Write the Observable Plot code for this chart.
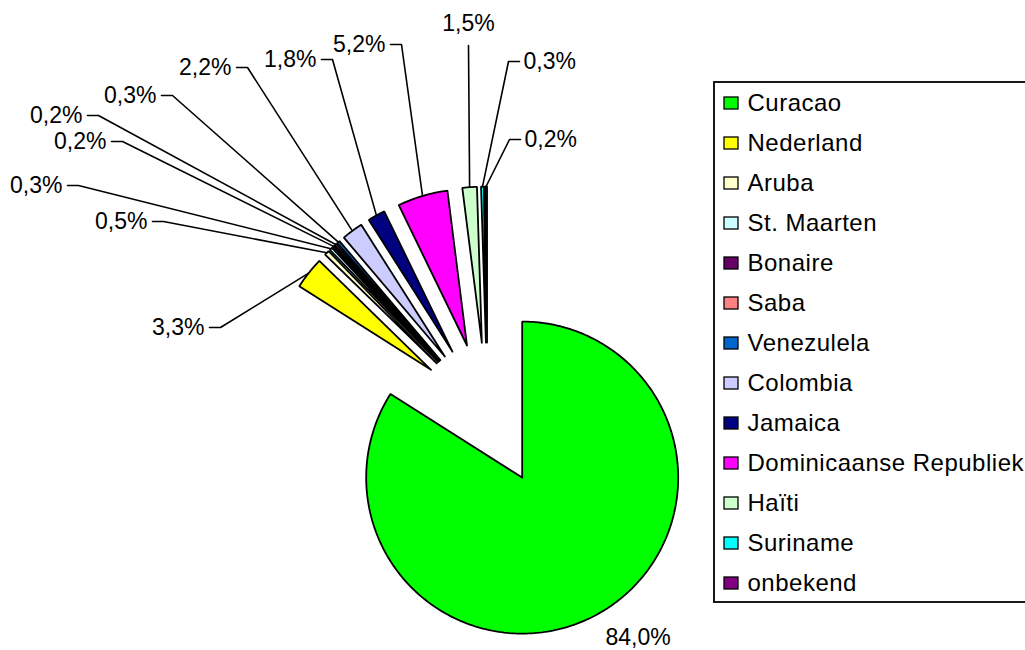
<!DOCTYPE html>
<html><head><meta charset="utf-8">
<script src="https://cdn.jsdelivr.net/npm/d3@7"></script>
<script src="https://cdn.jsdelivr.net/npm/@observablehq/plot@0.6"></script>
<style>body{margin:0;background:#fff;overflow:hidden}</style>
</head><body><div id="chart"></div>
<script>
// ---- data ----
const countries = ["Curacao","Nederland","Aruba","St. Maarten","Bonaire","Saba","Venezulela","Colombia","Jamaica","Dominicaanse Republiek","Haïti","Suriname","onbekend"];
const shares = [84.0,3.3,0.5,0.3,0.2,0.2,0.3,2.2,1.8,5.2,1.5,0.3,0.2];
const shareLabels = ["84,0%","3,3%","0,5%","0,3%","0,2%","0,2%","0,3%","2,2%","1,8%","5,2%","1,5%","0,3%","0,2%"];
const colors = ["#00ff00","#ffff00","#ffffcc","#ccffff","#660066","#ff8080","#0066cc","#ccccff","#000080","#ff00ff","#ccffcc","#00ffff","#800080"];

// ---- layout (manual Excel placement) ----
const W = 1025, H = 650;
const cx = 487, cy = 414, R = 156, explode = 72;
const labelElbows = [
  [605,637,"N"],[220,327,"L"],[163,221,"L"],[78,185,"L"],[122,141,"L"],[98,115,"L"],
  [172,95,"L"],[247,67,"L"],[332,59,"L"],[401,44,"L"],[468,45,"T"],[508,61,"R"],[509,139,"R"]
];
const legend = {x1:714, x2:1040, y1:82, y2:602, top:103, step:40, mx:724, mw:14, mh:12, tx:747};

// ---- geometry from data ----
let cum = 0;
const slicePts = [], ends = [];
countries.forEach((c, i) => {
  const a0 = cum / 100 * 2 * Math.PI; cum += shares[i];
  const a1 = cum / 100 * 2 * Math.PI, am = (a0 + a1) / 2;
  const vx = cx + explode * Math.sin(am), vy = cy - explode * Math.cos(am);
  slicePts.push({name: c, x: vx, y: vy});
  const n = Math.max(2, Math.ceil((a1 - a0) / (Math.PI / 180)));
  for (let k = 0; k <= n; k++) {
    const a = a0 + (a1 - a0) * k / n;
    slicePts.push({name: c, x: vx + R * Math.sin(a), y: vy - R * Math.cos(a)});
  }
  slicePts.push({name: c, x: vx, y: vy});
  ends.push({x: vx + R * Math.sin(am), y: vy - R * Math.cos(am)});
});

const leaderPts = [], labelTexts = [];
labelElbows.forEach(([ex, ey, side], i) => {
  if (side === "N") { labelTexts.push({x: ex, y: ey, t: shareLabels[i], anchor: "start"}); return; }
  const e = ends[i];
  if (side === "L") {
    leaderPts.push({i, x: ex - 11, y: ey}, {i, x: ex, y: ey}, {i, x: e.x, y: e.y});
    labelTexts.push({x: ex - 16, y: ey, t: shareLabels[i], anchor: "end"});
  } else if (side === "R") {
    leaderPts.push({i, x: ex + 11, y: ey}, {i, x: ex, y: ey}, {i, x: e.x, y: e.y});
    labelTexts.push({x: ex + 15, y: ey, t: shareLabels[i], anchor: "start"});
  } else {
    leaderPts.push({i, x: ex, y: ey}, {i, x: e.x, y: e.y});
    labelTexts.push({x: ex, y: ey - 22, t: shareLabels[i], anchor: "middle"});
  }
});

const legendRows = countries.map((c, i) => ({name: c, y: legend.top + i * legend.step}));
const textMark = anchor => Plot.text(labelTexts.filter(d => d.anchor === anchor),
  {x: "x", y: "y", text: "t", textAnchor: anchor, fontSize: 23, fill: "black"});

const chart = Plot.plot({
  width: W, height: H, margin: 0,
  x: {domain: [0, W], range: [0, W], axis: null},
  y: {domain: [0, H], range: [0, H], axis: null},
  color: {domain: countries, range: colors},
  style: {fontFamily: "'Liberation Sans', Arial, sans-serif", background: "white"},
  marks: [
    Plot.line(slicePts, {x: "x", y: "y", z: "name", fill: "name", stroke: "black", strokeWidth: 1.8, strokeLinejoin: "miter", curve: "linear"}),
    Plot.line(leaderPts, {x: "x", y: "y", z: "i", stroke: "black", strokeWidth: 1.6, curve: "linear"}),
    textMark("start"), textMark("end"), textMark("middle"),
    Plot.rect([legend], {x1: "x1", x2: "x2", y1: "y1", y2: "y2", fill: "white", stroke: "black", strokeWidth: 1.8}),
    Plot.rect(legendRows, {x1: () => legend.mx, x2: () => legend.mx + legend.mw, y1: d => d.y - legend.mh / 2, y2: d => d.y + legend.mh / 2, fill: "name", stroke: "black", strokeWidth: 1.3}),
    Plot.text(legendRows, {x: () => legend.tx, y: "y", text: "name", textAnchor: "start", fontSize: 24, fill: "black"})
  ]
});
const textGroups = chart.querySelectorAll('g[aria-label="text"]');
textGroups[textGroups.length - 1].setAttribute("letter-spacing", "0.5");
document.getElementById("chart").append(chart);
</script>
</body></html>
